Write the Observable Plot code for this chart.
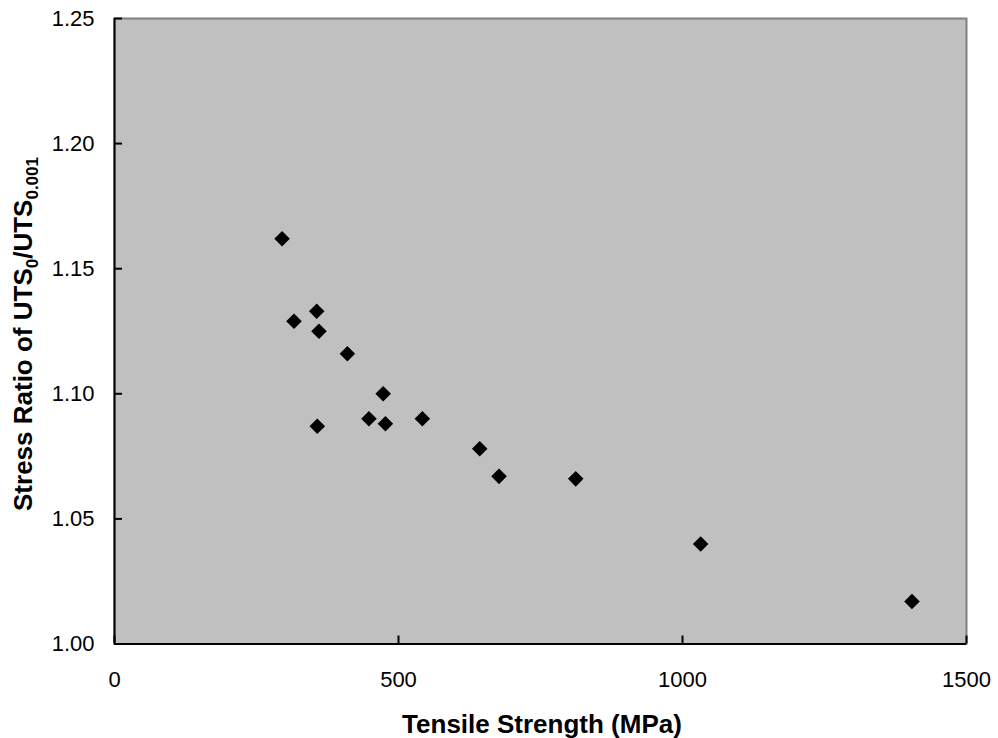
<!DOCTYPE html>
<html>
<head>
<meta charset="utf-8">
<script src="https://cdn.jsdelivr.net/npm/d3@7"></script>
<script src="https://cdn.jsdelivr.net/npm/@observablehq/plot@0.6"></script>
<style>
  html, body { margin: 0; padding: 0; background: #fff; }
  svg { display: block; }
</style>
</head>
<body>
<div id="chart"></div>
<script>
// Data
const tensileStrength = [295, 316, 356, 360, 410, 473, 448, 477, 542, 357, 643, 677, 812, 1032, 1404];
const stressRatio = [1.162, 1.129, 1.133, 1.125, 1.116, 1.100, 1.090, 1.088, 1.090, 1.087, 1.078, 1.067, 1.066, 1.040, 1.017];
const xTicks = [0, 500, 1000, 1500];
const yTicks = [1.00, 1.05, 1.10, 1.15, 1.20, 1.25];
const xTitle = "Tensile Strength (MPa)";
const yTitleParts = [["Stress Ratio of UTS", false], ["0", true], ["/UTS", false], ["0.001", true]];

const points = tensileStrength.map((x, i) => ({x, y: stressRatio[i]}));

const W = 998, H = 738;
const mL = 114, mT = 18, mR = 32, mB = 94.5;
const font = "'Liberation Sans', Arial, sans-serif";

const chart = Plot.plot({
  width: W,
  height: H,
  marginLeft: mL,
  marginTop: mT,
  marginRight: mR,
  marginBottom: mB,
  style: {fontFamily: font, background: "#fff", color: "#000", overflow: "visible"},
  x: {domain: [0, 1500], ticks: xTicks, label: null},
  y: {domain: [1.0, 1.25], ticks: yTicks, label: null},
  marks: [
    Plot.frame({fill: "#c0c0c0", stroke: "#808080", strokeWidth: 2}),
    Plot.ruleX([0], {stroke: "#000", strokeWidth: 2}),
    Plot.ruleY([1.0], {stroke: "#000", strokeWidth: 2}),
    // inward tick marks
    Plot.axisY({ticks: yTicks, tickSize: 8, text: null, dx: 8, stroke: "#000", strokeWidth: 2, strokeOpacity: 1, label: null}),
    Plot.axisX({ticks: xTicks, tickSize: 8, text: null, dy: -8, stroke: "#000", strokeWidth: 2, strokeOpacity: 1, label: null}),
    // tick labels
    Plot.axisY({ticks: yTicks, tickSize: 0, tickPadding: 20, tickFormat: d3.format(".2f"), fontSize: 22, fill: "#000", label: null}),
    Plot.axisX({ticks: xTicks, tickSize: 0, tickPadding: 27, tickFormat: d => String(d), fontSize: 22, fill: "#000", label: null}),
    Plot.dot(points, {x: "x", y: "y", symbol: "diamond2", r: 7, fill: "#000", stroke: "none"})
  ]
});

const svg = d3.select(chart);

svg.append("text")
  .attr("x", 542)
  .attr("y", 733)
  .attr("text-anchor", "middle")
  .attr("font-family", font)
  .attr("font-weight", "bold")
  .attr("font-size", 26)
  .attr("fill", "#000")
  .text(xTitle);

const yt = svg.append("text")
  .attr("transform", `translate(32,334) rotate(-90)`)
  .attr("text-anchor", "middle")
  .attr("font-family", font)
  .attr("font-weight", "bold")
  .attr("font-size", 26)
  .attr("fill", "#000");
yTitleParts.forEach(([t, sub]) => {
  const ts = yt.append("tspan").text(t);
  if (sub) ts.attr("font-size", 17).attr("dy", 6);
  else ts.attr("dy", t === "/UTS" ? -6 : 0);
});

document.getElementById("chart").appendChild(chart);
</script>
</body>
</html>
